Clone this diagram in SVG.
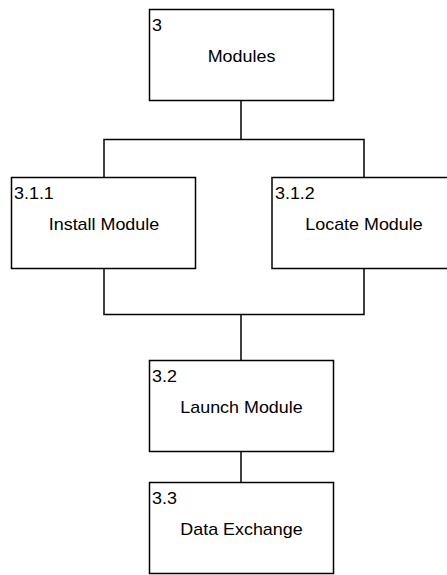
<svg xmlns="http://www.w3.org/2000/svg" width="447" height="575" viewBox="0 0 447 575">
<style>
.box{fill:#fff;stroke:#000;stroke-width:1.5}
.conn{fill:none;stroke:#000;stroke-width:1.5}
text{font-family:"Liberation Sans",Arial,Helvetica,sans-serif;font-size:16px;fill:#000}
.t{text-anchor:middle}
</style>
<rect width="447" height="575" fill="#fff"/>
<g id="connectors">
<path class="conn" d="M241 100.5V139.5M104 177.5V139.5H364V177.5"/>
<path class="conn" d="M104 268.5V314.5H364V268.5M241 314.5V360.5"/>
<path class="conn" d="M241 451.5V482.5"/>
</g>
<g id="n3">
<rect class="box" x="149.5" y="9.5" width="184" height="91"/>
<text x="152" y="31.5" transform="translate(152 0) scale(1.12 1) translate(-152 0)">3</text>
<text class="t" x="241.5" y="62.5" transform="translate(241.5 0) scale(1.12 1) translate(-241.5 0)">Modules</text>
</g>
<g id="n311">
<rect class="box" x="11.5" y="177.5" width="184" height="91"/>
<text x="14" y="199.5" transform="translate(14 0) scale(1.12 1) translate(-14 0)">3.1.1</text>
<text class="t" x="104" y="230.5" transform="translate(104 0) scale(1.12 1) translate(-104 0)">Install Module</text>
</g>
<g id="n312">
<rect class="box" x="272" y="177.5" width="184" height="91"/>
<text x="275" y="199.5" transform="translate(275 0) scale(1.12 1) translate(-275 0)">3.1.2</text>
<text class="t" x="364" y="230.5" transform="translate(364 0) scale(1.12 1) translate(-364 0)">Locate Module</text>
</g>
<g id="n32">
<rect class="box" x="149.5" y="360.5" width="184" height="91"/>
<text x="152" y="382.5" transform="translate(152 0) scale(1.12 1) translate(-152 0)">3.2</text>
<text class="t" x="241.5" y="413.5" transform="translate(241.5 0) scale(1.12 1) translate(-241.5 0)">Launch Module</text>
</g>
<g id="n33">
<rect class="box" x="149.5" y="482.5" width="184" height="91"/>
<text x="152" y="504.5" transform="translate(152 0) scale(1.12 1) translate(-152 0)">3.3</text>
<text class="t" x="241.5" y="535.5" transform="translate(241.5 0) scale(1.12 1) translate(-241.5 0)">Data Exchange</text>
</g>
</svg>
